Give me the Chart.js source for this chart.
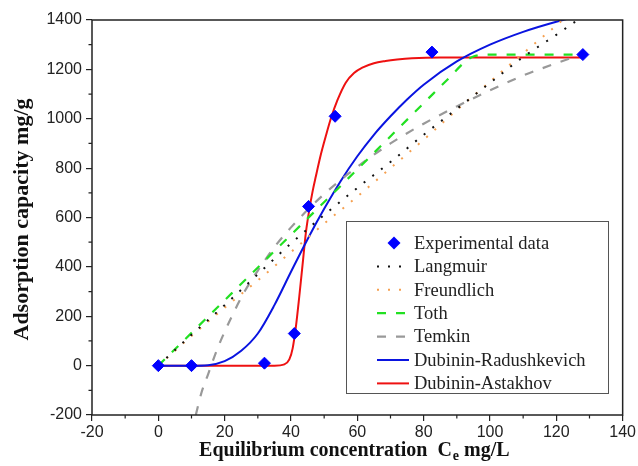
<!DOCTYPE html>
<html><head><meta charset="utf-8">
<script src="https://cdn.jsdelivr.net/npm/chart.js@4.4.0/dist/chart.umd.min.js"></script>
<style>html,body{margin:0;padding:0;background:#fff;}#wrap{width:638px;height:466px;position:relative;}</style>
</head><body><div id="wrap"><canvas id="c" width="638" height="466"></canvas></div>
<script>
// ---- data ----
const xTicks = [-20, 0, 20, 40, 60, 80, 100, 120, 140];
const yTicks = [-200, 0, 200, 400, 600, 800, 1000, 1200, 1400];

const expX = [0, 10, 32, 41, 45.3, 53.3, 82.5, 128];
const expY = [0, 0, 10, 130, 645, 1010, 1270, 1260];

const langX = [0, 10, 20, 30, 40, 50, 60, 70, 80, 90, 100, 110, 120, 128];
const langY = [0, 125, 245, 370, 495, 610, 720, 825, 935, 1040, 1145, 1250, 1340, 1415];

const frX = [0, 10, 20, 30, 40, 50, 60, 70, 80, 90, 100, 110, 120, 128];
const frY = [0, 120, 235, 345, 460, 575, 685, 800, 915, 1035, 1150, 1265, 1378, 1470];

const tothX = [0, 20, 40, 60, 80, 88, 92, 95, 100, 128];
const tothY = [0, 265, 530, 795, 1063, 1170, 1225, 1252, 1260, 1260];

const temX = [11.3, 13, 15, 18, 22, 26, 30, 35, 40, 50, 60, 70, 80, 90, 100, 110, 120, 128];
const temY = [-200, -110, -35, 75, 195, 300, 385, 480, 560, 695, 805, 900, 980, 1050, 1115, 1175, 1225, 1262];

const drX = [0, 10, 15, 20, 25, 30, 35, 40, 45, 50, 55, 60, 65, 70, 75, 80, 90, 100, 110, 120, 128];
const drY = [0, 0, 2, 18, 60, 130, 245, 380, 512, 635, 748, 848, 935, 1010, 1078, 1138, 1232, 1300, 1352, 1393, 1420];

const daX = [0, 20, 35, 38, 39.5, 40.5, 41.5, 42.5, 43.5, 44.5, 45.5, 46.5, 47.5, 49, 50.5, 52, 54, 56.5, 59, 61.5, 65, 68.5, 72, 76.5, 85, 100, 128];
const daY = [0, 0, 0, 5, 25, 70, 160, 280, 410, 540, 630, 705, 767, 855, 930, 1000, 1075, 1146, 1185, 1207, 1225, 1234, 1240, 1245, 1248, 1248, 1248];

const labels = ['Experimental data', 'Langmuir', 'Freundlich', 'Toth', 'Temkin', 'Dubinin-Radushkevich', 'Dubinin-Astakhov'];

const pts = (xs, ys) => xs.map((x, i) => ({x: x, y: ys[i]}));

const lineDs = (label, xs, ys, color, dash, width) => ({
  type: 'line', label, data: pts(xs, ys), borderColor: color, backgroundColor: color,
  borderWidth: width, borderDash: dash, pointRadius: 0, fill: false,
  cubicInterpolationMode: 'monotone', order: 2
});

const datasets = [
  {type: 'scatter', label: labels[0], data: pts(expX, expY), pointStyle: 'rectRot', pointRadius: 6,
   backgroundColor: '#0000ff', borderColor: '#0000ff', borderWidth: 1, order: 0},
  lineDs(labels[1], langX, langY, '#111111', [2, 9], 2),
  lineDs(labels[2], frX, frY, '#f5a050', [2, 9], 2),
  lineDs(labels[3], tothX, tothY, '#22e022', [9, 10], 2.2),
  lineDs(labels[4], temX, temY, '#999999', [9, 10], 2.2),
  lineDs(labels[5], drX, drY, '#0a14e0', [], 2),
  lineDs(labels[6], daX, daY, '#ee1111', [], 2)
];

const framePlugin = {
  id: 'frame',
  afterDraw(chart) {
    const ctx = chart.ctx, a = chart.chartArea;
    const xs = chart.scales.x, ys = chart.scales.y;
    ctx.save();
    ctx.strokeStyle = '#222'; ctx.lineWidth = 1.5; ctx.setLineDash([]);
    ctx.strokeRect(a.left, a.top, a.right - a.left, a.bottom - a.top);
    // minor ticks
    ctx.lineWidth = 1.2;
    ctx.beginPath();
    for (let i = 0; i < xTicks.length - 1; i++) {
      const px = xs.getPixelForValue((xTicks[i] + xTicks[i + 1]) / 2);
      ctx.moveTo(px, a.bottom); ctx.lineTo(px, a.bottom + 3.5);
    }
    for (let i = 0; i < yTicks.length - 1; i++) {
      const py = ys.getPixelForValue((yTicks[i] + yTicks[i + 1]) / 2);
      ctx.moveTo(a.left, py); ctx.lineTo(a.left - 3.5, py);
    }
    ctx.stroke();
    // axis titles
    ctx.fillStyle = '#111';
    ctx.textBaseline = 'alphabetic';
    const big = 'bold 20px "Liberation Serif"', small = 'bold 14px "Liberation Serif"';
    const t1 = 'Equilibrium concentration  C', t2 = 'e', t3 = ' mg/L';
    ctx.font = big;
    const w1 = ctx.measureText(t1).width, w3 = ctx.measureText(t3).width;
    ctx.font = small;
    const w2 = ctx.measureText(t2).width;
    const cx = (a.left + a.right) / 2 - 3;
    let sx = cx - (w1 + w2 + w3 + 1) / 2;
    const by = 456;
    ctx.textAlign = 'left';
    ctx.font = big;
    ctx.fillText(t1, sx, by);
    ctx.font = small;
    ctx.fillText(t2, sx + w1 + 1, by + 4);
    ctx.font = big;
    ctx.fillText(t3, sx + w1 + w2 + 1, by);
    ctx.save();
    ctx.translate(28, (a.top + a.bottom) / 2 + 2);
    ctx.rotate(-Math.PI / 2);
    ctx.textAlign = 'center';
    ctx.font = 'bold 22px "Liberation Serif"';
    ctx.fillText('Adsorption capacity mg/g', 0, 0);
    ctx.restore();
    // legend
    const bx = 346, bt = 221, bw = 262, bh = 172;
    ctx.fillStyle = '#fff';
    ctx.fillRect(bx, bt, bw, bh);
    ctx.strokeStyle = '#555'; ctx.lineWidth = 1;
    ctx.strokeRect(bx + 0.5, bt + 0.5, bw, bh);
    chart.data.datasets.forEach((ds, i) => {
      const y = 243 + i * 23.4;
      if (ds.type === 'scatter') {
        ctx.fillStyle = ds.backgroundColor;
        ctx.beginPath();
        ctx.moveTo(394, y - 6.5); ctx.lineTo(400.5, y); ctx.lineTo(394, y + 6.5); ctx.lineTo(387.5, y); ctx.closePath();
        ctx.fill();
      } else {
        ctx.strokeStyle = ds.borderColor; ctx.lineWidth = ds.borderWidth;
        ctx.setLineDash(ds.borderDash || []);
        ctx.beginPath(); ctx.moveTo(377, y); ctx.lineTo(409, y); ctx.stroke();
        ctx.setLineDash([]);
      }
      ctx.fillStyle = '#222';
      ctx.font = '18.5px "Liberation Serif"';
      ctx.textAlign = 'left'; ctx.textBaseline = 'middle';
      ctx.fillText(ds.label, 414, y + 1);
    });
    ctx.restore();
  }
};

new Chart(document.getElementById('c'), {
  type: 'scatter',
  data: {datasets},
  options: {
    responsive: false, animation: false, devicePixelRatio: 1,
    layout: {padding: {left: 0, right: 13, top: 20, bottom: 0}},
    plugins: {legend: {display: false}, tooltip: {enabled: false}},
    scales: {
      x: {
        type: 'linear', min: -20, max: 140,
        afterBuildTicks: s => { s.ticks = xTicks.map(v => ({value: v})); },
        afterFit: s => { s.height = 51; },
        grid: {drawOnChartArea: false, drawTicks: true, tickLength: 6, color: '#222', lineWidth: 1.2},
        border: {display: false},
        ticks: {font: {family: '"Liberation Sans"', size: 16}, color: '#222', padding: 2, maxRotation: 0,
                callback: v => String(v)}
      },
      y: {
        type: 'linear', min: -200, max: 1400,
        afterBuildTicks: s => { s.ticks = yTicks.map(v => ({value: v})); },
        afterFit: s => { s.width = 92; },
        grid: {drawOnChartArea: false, drawTicks: true, tickLength: 6, color: '#222', lineWidth: 1.2},
        border: {display: false},
        ticks: {font: {family: '"Liberation Sans"', size: 16}, color: '#222', padding: 4,
                callback: v => String(v)}
      }
    }
  },
  plugins: [framePlugin]
});
</script></body></html>
